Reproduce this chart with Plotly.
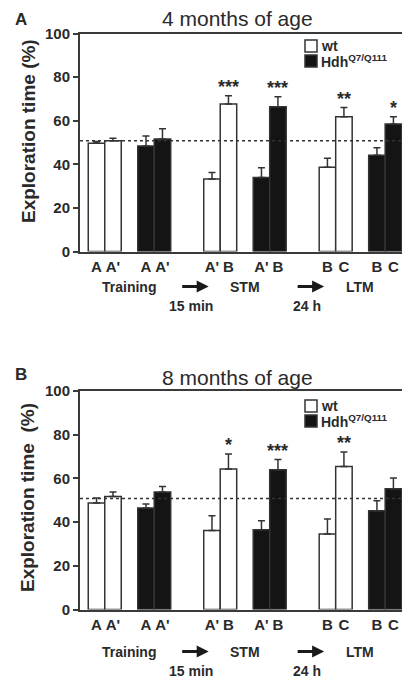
import plotly.graph_objects as go

# ---------------- data ----------------
phases = ["Training", "STM", "LTM"]
objects = [["A", "A'"], ["A'", "B"], ["B", "C"]]
delays = ["15 min", "24 h"]
genotypes = ["wt", "Hdh<sup>Q7/Q111</sup>"]

wt_4m = [49.6, 50.8, 33.3, 67.7, 38.6, 61.8]
wt_4m_sem = [0.9, 1.1, 2.9, 3.8, 4.2, 4.2]
hdh_4m = [48.4, 51.6, 33.9, 66.4, 44.1, 58.5]
hdh_4m_sem = [4.6, 4.7, 4.5, 4.6, 3.5, 3.3]
wt_4m_sig = ["", "", "", "***", "", "**"]
hdh_4m_sig = ["", "", "", "***", "", "*"]

wt_8m = [48.7, 51.7, 36.2, 64.3, 34.6, 65.5]
wt_8m_sem = [2.3, 2.1, 6.7, 6.9, 6.8, 6.6]
hdh_8m = [46.4, 53.8, 36.5, 64.0, 45.2, 55.3]
hdh_8m_sem = [1.9, 2.5, 4.1, 4.6, 4.6, 4.9]
wt_8m_sig = ["", "", "", "*", "", "**"]
hdh_8m_sig = ["", "", "", "***", "", ""]

reference_level = 50.8
y_ticks = [0, 20, 40, 60, 80, 100]

# ---------------- layout helpers ----------------
W, H = 402, 679
FONT = "Liberation Sans, Arial, sans-serif"
INK = "#2a2a2a"


def py(pix):
    return 1 - pix / H


def px(pix):
    return pix / W


PHASE_STEP, GENO_STEP = 7, 3


def positions(geno):
    out = []
    for p in range(len(phases)):
        for k in range(2):
            out.append(p * PHASE_STEP + geno * GENO_STEP + k)
    return out


fig = go.Figure()

panels = [
    dict(wt=wt_4m, wts=wt_4m_sem, hdh=hdh_4m, hdhs=hdh_4m_sem,
         wsig=wt_4m_sig, hsig=hdh_4m_sig, xa="x", ya="y",
         top=33.5, bottom=251.5, title="4 months of age", letter="A",
         title_y=18, letter_y=19, ytitle="Exploration time (%)", ytitle_y=131,
         phase_y=286.5, delay_y=306.5, leg_y=46),
    dict(wt=wt_8m, wts=wt_8m_sem, hdh=hdh_8m, hdhs=hdh_8m_sem,
         wsig=wt_8m_sig, hsig=hdh_8m_sig, xa="x2", ya="y2",
         top=391, bottom=609.5, title="8 months of age", letter="B",
         title_y=377, letter_y=374, ytitle="Exploration time\u00a0 (%)", ytitle_y=498,
         phase_y=651.5, delay_y=670.5, leg_y=406),
]

annotations = []
shapes = []
flat_objects = [o for pair in objects for o in pair]

for i, pn in enumerate(panels):
    for g, (vals, sems, sig, fill) in enumerate([
        (pn["wt"], pn["wts"], pn["wsig"], "white"),
        (pn["hdh"], pn["hdhs"], pn["hsig"], "#141414"),
    ]):
        xs = positions(g)
        fig.add_trace(go.Bar(
            x=xs, y=vals, width=1, xaxis=pn["xa"], yaxis=pn["ya"],
            marker=dict(color=fill, line=dict(color="#333333", width=1.5)),
            error_y=dict(type="data", array=sems, arrayminus=[0] * len(sems),
                         symmetric=False, color="#333333", thickness=1.5, width=3.5),
            showlegend=False, name=genotypes[g],
        ))
        for x, v, s, t in zip(xs, vals, sems, sig):
            if t:
                annotations.append(dict(
                    x=x, y=v + s, xref=pn["xa"], yref=pn["ya"], text=t,
                    showarrow=False, yanchor="bottom", yshift=-3,
                    font=dict(family=FONT, size=18, color=INK, weight="bold")))

    # reference (chance) line
    shapes.append(dict(type="line", xref=pn["xa"] + " domain", yref=pn["ya"],
                       x0=0, x1=1, y0=reference_level, y1=reference_level,
                       line=dict(color="#333333", width=1.6, dash="3px,3px")))

    # panel title & letter
    annotations.append(dict(x=px(237.5), y=py(pn["title_y"]), xref="paper", yref="paper",
                            text=pn["title"], showarrow=False, xanchor="center", yanchor="middle",
                            font=dict(family=FONT, size=21, color=INK)))
    annotations.append(dict(x=px(21), y=py(pn["letter_y"]), xref="paper", yref="paper",
                            text=pn["letter"], showarrow=False, xanchor="center", yanchor="middle",
                            font=dict(family=FONT, size=17, color=INK, weight="bold")))
    # y title
    annotations.append(dict(x=px(28), y=py(pn["ytitle_y"]), xref="paper", yref="paper",
                            text=pn["ytitle"], showarrow=False, textangle=-90,
                            xanchor="center", yanchor="middle",
                            font=dict(family=FONT, size=19, color=INK, weight="bold")))

    # phase row, arrows and delays
    for p, name in enumerate(phases):
        annotations.append(dict(x=p * PHASE_STEP + 2, y=py(pn["phase_y"]), xref=pn["xa"], yref="paper",
                                text=name, showarrow=False, xanchor="center", yanchor="middle",
                                font=dict(family=FONT, size=14, color=INK, weight="bold")))
    for p, d in enumerate(delays):
        base = p * PHASE_STEP
        annotations.append(dict(x=base + 6.8, y=py(pn["phase_y"]), ax=-28, ay=0,
                                xref=pn["xa"], yref="paper", axref="pixel", ayref="pixel",
                                text="", showarrow=True, arrowhead=2, arrowsize=0.8,
                                arrowwidth=3, arrowcolor="#1a1a1a"))
        annotations.append(dict(x=base + 5.75, y=py(pn["delay_y"]), xref=pn["xa"], yref="paper",
                                text=d, showarrow=False, xanchor="center", yanchor="middle",
                                font=dict(family=FONT, size=14, color=INK, weight="bold")))

    # legend (drawn)
    for g, name in enumerate(genotypes):
        yc = pn["leg_y"] + g * 15
        shapes.append(dict(type="rect", xref="paper", yref="paper",
                           x0=px(305), x1=px(317), y0=py(yc + 6), y1=py(yc - 6),
                           fillcolor="white" if g == 0 else "#141414",
                           line=dict(color="#333333", width=1.5)))
        annotations.append(dict(x=px(319), y=py(yc), xref="paper", yref="paper",
                                text=name, showarrow=False, xanchor="left", yanchor="middle",
                                font=dict(family=FONT, size=14, color=INK, weight="bold")))

    axis_common = dict(showline=True, linecolor="#3a3a3a", linewidth=2, showgrid=False,
                       zeroline=False, automargin=False)
    xkey = "xaxis" if i == 0 else "xaxis2"
    ykey = "yaxis" if i == 0 else "yaxis2"
    fig.update_layout(**{
        xkey: dict(domain=[px(80), 1], range=[-1, 18.52], anchor=pn["ya"], mirror=True,
                   tickvals=positions(0) + positions(1),
                   ticktext=flat_objects + flat_objects, ticks="",
                   tickfont=dict(family=FONT, size=15, color=INK, weight="bold"),
                   **axis_common),
        ykey: dict(domain=[py(pn["bottom"]), py(pn["top"])], range=[0, 100], anchor=pn["xa"],
                   tickvals=y_ticks, ticks="outside", ticklen=5, tickwidth=1.5, tickcolor="#3a3a3a",
                   tickfont=dict(family=FONT, size=15, color=INK, weight="bold"),
                   **axis_common),
    })

fig.update_layout(
    width=W, height=H, margin=dict(l=0, r=0, t=0, b=0, pad=0, autoexpand=False),
    paper_bgcolor="white", plot_bgcolor="white",
    barmode="overlay", annotations=annotations, shapes=shapes, showlegend=False,
)

fig.write_html("out.html", config={"displayModeBar": False},
               post_script="document.body.style.margin='0';document.body.style.overflow='hidden';")
